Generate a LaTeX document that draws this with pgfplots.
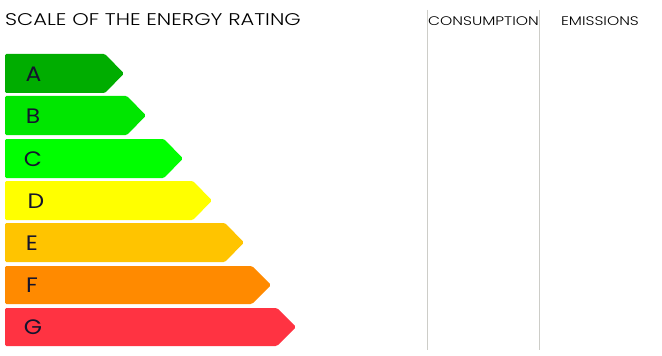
\documentclass[border=0pt]{standalone}
\usepackage{pgfplots}
\pgfplotsset{compat=1.18}
\usepackage{graphicx}
\usepackage{fontspec}
\setmainfont{Poppins}
\newfontfamily\lightfont{Poppins Light}
\definecolor{cA}{RGB}{0,173,0}
\definecolor{cB}{RGB}{0,230,0}
\definecolor{cC}{RGB}{0,255,0}
\definecolor{cD}{RGB}{255,255,0}
\definecolor{cE}{RGB}{255,196,0}
\definecolor{cF}{RGB}{255,138,0}
\definecolor{cG}{RGB}{255,51,66}
\definecolor{navy}{RGB}{20,20,45}
\definecolor{sep}{RGB}{205,205,200}
\begin{document}
\begin{tikzpicture}
\path[use as bounding box] (0,0) rectangle (662bp,356bp);
\begin{axis}[at={(0,0)},anchor=south west,
  scale only axis, width=662bp, height=356bp,
  xmin=0, xmax=662, ymin=0, ymax=356, y dir=reverse,
  hide axis, clip=false]
% arrows: left 5, top, bottom, tip x
\addplot[fill=cA, draw=none, rounded corners=1.5pt] coordinates {(5,54) (105,54) (124,73.5) (105,93) (5,93)} -- cycle;
\addplot[fill=cB, draw=none, rounded corners=1.5pt] coordinates {(5,96) (127,96) (146,115.5) (127,135) (5,135)} -- cycle;
\addplot[fill=cC, draw=none, rounded corners=1.5pt] coordinates {(5,139) (164,139) (183,158.5) (164,178) (5,178)} -- cycle;
\addplot[fill=cD, draw=none, rounded corners=1.5pt] coordinates {(5,181) (193,181) (212,200.5) (193,220) (5,220)} -- cycle;
\addplot[fill=cE, draw=none, rounded corners=1.5pt] coordinates {(5,223) (225,223) (244,242.5) (225,262) (5,262)} -- cycle;
\addplot[fill=cF, draw=none, rounded corners=1.5pt] coordinates {(5,266) (252,266) (271,285) (252,304) (5,304)} -- cycle;
\addplot[fill=cG, draw=none, rounded corners=1.5pt] coordinates {(5,308) (277,308) (296,327) (277,346) (5,346)} -- cycle;
% separators
\addplot[draw=sep, line width=0.8pt] coordinates {(427,10) (427,350)};
\addplot[draw=sep, line width=0.8pt] coordinates {(539,10) (539,350)};
% letters
\begin{scope}[every node/.style={font=\fontsize{21}{21}\selectfont, text=navy, inner sep=0pt}]
\node at (axis cs:33.5,74) {\scalebox{1.12}[1]{A}};
\node at (axis cs:33,116) {\scalebox{1.12}[1]{B}};
\node at (axis cs:33,159) {\scalebox{1.12}[1]{C}};
\node at (axis cs:36,201) {\scalebox{1.12}[1]{D}};
\node at (axis cs:32,243) {\scalebox{1.12}[1]{E}};
\node at (axis cs:32,285.5) {\scalebox{1.12}[1]{F}};
\node at (axis cs:33,327.5) {\scalebox{1.12}[1]{G}};
\end{scope}
\node[anchor=base west, inner sep=0pt, font=\lightfont\fontsize{17}{17}\selectfont, text=black] at (axis cs:5,26) {\scalebox{1.24}[1]{SCALE OF THE ENERGY RATING}};
\node[anchor=base, inner sep=0pt, font=\lightfont\fontsize{12.5}{12.5}\selectfont, text=black] at (axis cs:483.5,26) {\scalebox{1.25}[1]{CONSUMPTION}};
\node[anchor=base, inner sep=0pt, font=\lightfont\fontsize{12.5}{12.5}\selectfont, text=black] at (axis cs:600,26) {\scalebox{1.25}[1]{EMISSIONS}};
\end{axis}
\end{tikzpicture}
\end{document}
